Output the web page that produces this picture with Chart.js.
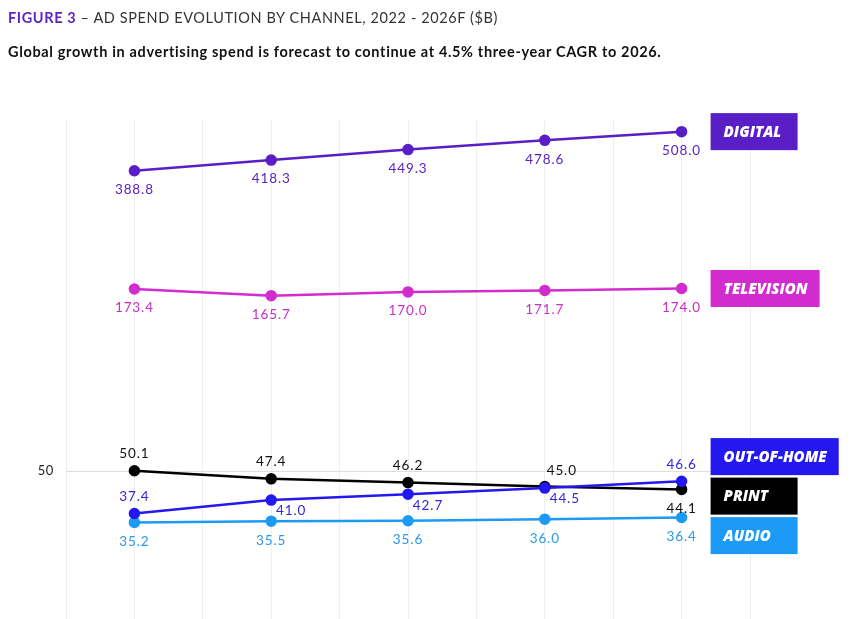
<!DOCTYPE html>
<html>
<head>
<meta charset="utf-8">
<script src="https://cdn.jsdelivr.net/npm/chart.js@4.4.1/dist/chart.umd.min.js"></script>
<style>
  html, body { margin: 0; padding: 0; background: #fff; }
  #wrap { position: relative; width: 855px; height: 619px; overflow: hidden; }
  #c { position: absolute; left: 0; top: 0; }
  .title { position: absolute; left: 8px; top: 8px; font-family: "Lato", sans-serif; font-size: 14.5px; line-height: 20px; color: #333; white-space: nowrap; z-index: 2; }
  .title b { color: #5B26C2; font-weight: 700; }
  .sub { position: absolute; left: 8px; top: 42px; font-family: "Lato", sans-serif; font-weight: 700; font-size: 14.5px; line-height: 20px; color: #111; white-space: nowrap; z-index: 2; }
</style>
</head>
<body>
<div id="wrap">
  <div class="title" id="title"><b>FIGURE 3</b> – AD SPEND EVOLUTION BY CHANNEL, 2022 - 2026F ($B)</div>
  <div class="sub" id="sub">Global growth in advertising spend is forecast to continue at 4.5% three-year CAGR to 2026.</div>
  <canvas id="c" width="855" height="619"></canvas>
</div>
<script>
const years = [2022, 2023, 2024, 2025, 2026];
const seriesNames = ['DIGITAL', 'TELEVISION', 'OUT-OF-HOME', 'PRINT', 'AUDIO'];
const digital = [388.8, 418.3, 449.3, 478.6, 508.0];
const television = [173.4, 165.7, 170.0, 171.7, 174.0];
const outOfHome = [37.4, 41.0, 42.7, 44.5, 46.6];
const print = [50.1, 47.4, 46.2, 45.0, 44.1];
const audio = [35.2, 35.5, 35.6, 36.0, 36.4];
const yTicks = [50];

// fit heading text widths to the reference
function fitWidth(el, target) {
  const txt = el.textContent;
  const w = el.getBoundingClientRect().width;
  const ls = (target - w) / txt.length;
  el.style.letterSpacing = ls.toFixed(3) + 'px';
}
fitWidth(document.getElementById('title'), 490);
fitWidth(document.getElementById('sub'), 654);

const colors = ['#5A1EC6', '#D22CCE', '#2318EE', '#000000', '#1C9AF6'];
const labelColors = ['#5A22C2', '#C92FC6', '#3326DE', '#111111', '#2A98EC'];
// label placement per point: b=below, a=above, br=below-right, ar=above-right
const placements = [
  ['b', 'b', 'b', 'b', 'b'],
  ['b', 'b', 'b', 'b', 'b'],
  ['a', 'br', 'br', 'br', 'a'],
  ['a', 'a', 'a', 'ar', 'b'],
  ['b', 'b', 'b', 'b', 'b']
];
const allSeries = [digital, television, outOfHome, print, audio];

const datasets = allSeries.map((vals, i) => ({
  label: seriesNames[i],
  data: vals.map((v, k) => ({ x: years[k], y: v })),
  borderColor: colors[i],
  backgroundColor: colors[i],
  pointBackgroundColor: colors[i],
  pointBorderColor: colors[i],
  borderWidth: 2.5,
  pointRadius: 4.5,
  pointHoverRadius: 4.5,
  tension: 0,
  fill: false,
  clip: false,
  _labelColor: labelColors[i],
  _place: placements[i]
}));

const offsets = { b: [0, 19], a: [0, -17], br: [20, 11], ar: [17, -16] };

const yTickLabelPlugin = {
  id: 'yTickLabels',
  afterDraw(chart) {
    const ctx = chart.ctx;
    const ys = chart.scales.y;
    ctx.save();
    ctx.font = '400 13px "Lato", sans-serif';
    ctx.letterSpacing = '0.6px';
    ctx.fillStyle = '#222';
    ctx.textAlign = 'right';
    ctx.textBaseline = 'middle';
    yTicks.forEach(v => ctx.fillText(String(v), chart.chartArea.left - 12, ys.getPixelForValue(v)));
    ctx.restore();
  }
};

const labelsPlugin = {
  id: 'valueLabels',
  afterDatasetsDraw(chart) {
    const ctx = chart.ctx;
    ctx.save();
    ctx.font = '400 13.5px "Lato", sans-serif';
    ctx.letterSpacing = '0.9px';
    ctx.textAlign = 'center';
    ctx.textBaseline = 'middle';
    chart.data.datasets.forEach((ds, di) => {
      const meta = chart.getDatasetMeta(di);
      ctx.fillStyle = ds._labelColor;
      meta.data.forEach((pt, k) => {
        const o = offsets[ds._place[k]];
        ctx.fillText(ds.data[k].y.toFixed(1), pt.x + o[0], pt.y + o[1]);
      });
    });
    ctx.restore();
  }
};

const boxPlugin = {
  id: 'seriesBoxes',
  afterDraw(chart) {
    const ctx = chart.ctx;
    const H = 37, SP = 39.5;
    const items = chart.data.datasets.map((ds, di) => {
      const meta = chart.getDatasetMeta(di);
      const last = meta.data[meta.data.length - 1];
      return { name: ds.label, color: ds.borderColor, y: last.y, x: last.x };
    }).sort((a, b) => a.y - b.y);
    let groups = items.map(it => ({ members: [it] }));
    const place = g => {
      const mean = g.members.reduce((s, m) => s + m.y, 0) / g.members.length;
      const n = g.members.length;
      g.members.forEach((m, i) => { m.cy = mean + SP * (i - (n - 1) / 2); });
    };
    let changed = true;
    while (changed) {
      changed = false;
      groups.forEach(place);
      for (let i = 0; i < groups.length - 1; i++) {
        const a = groups[i].members[groups[i].members.length - 1];
        const b = groups[i + 1].members[0];
        if (b.cy - a.cy < SP) {
          groups[i].members = groups[i].members.concat(groups[i + 1].members);
          groups.splice(i + 1, 1);
          changed = true;
          break;
        }
      }
    }
    groups.forEach(place);
    ctx.save();
    ctx.font = 'italic 800 15px "Open Sans", sans-serif';
    ctx.textBaseline = 'middle';
    ctx.textAlign = 'left';
    items.forEach(it => {
      const w = Math.max(87, ctx.measureText(it.name).width + 25);
      const x = it.x + 29;
      const top = it.cy - H / 2;
      ctx.fillStyle = it.color;
      ctx.fillRect(x, top, w, H);
      ctx.fillStyle = '#ffffff';
      ctx.fillText(it.name, x + 13, it.cy + 1);
    });
    ctx.restore();
  }
};

new Chart(document.getElementById('c'), {
  type: 'line',
  data: { datasets },
  options: {
    responsive: false,
    animation: false,
    events: [],
    layout: { autoPadding: false, padding: { left: 0, right: 105, top: 120, bottom: 0 } },
    plugins: { legend: { display: false }, tooltip: { enabled: false }, title: { display: false } },
    scales: {
      x: {
        type: 'linear',
        min: 2021.5,
        max: 2026.5,
        afterFit(scale) { scale.height = 0; },
        ticks: { display: false, stepSize: 0.5, padding: 0 },
        grid: { color: '#efefef', lineWidth: 1, drawTicks: false },
        border: { display: false }
      },
      y: {
        type: 'logarithmic',
        min: 18.2,
        max: 550,
        afterBuildTicks(scale) { scale.ticks = yTicks.map(v => ({ value: v })); },
        afterFit(scale) { scale.width = 66; },
        ticks: { display: false, padding: 0 },
        grid: { color: '#dedede', lineWidth: 1, drawTicks: false },
        border: { display: false }
      }
    }
  },
  plugins: [labelsPlugin, boxPlugin, yTickLabelPlugin]
});
</script>
</body>
</html>
